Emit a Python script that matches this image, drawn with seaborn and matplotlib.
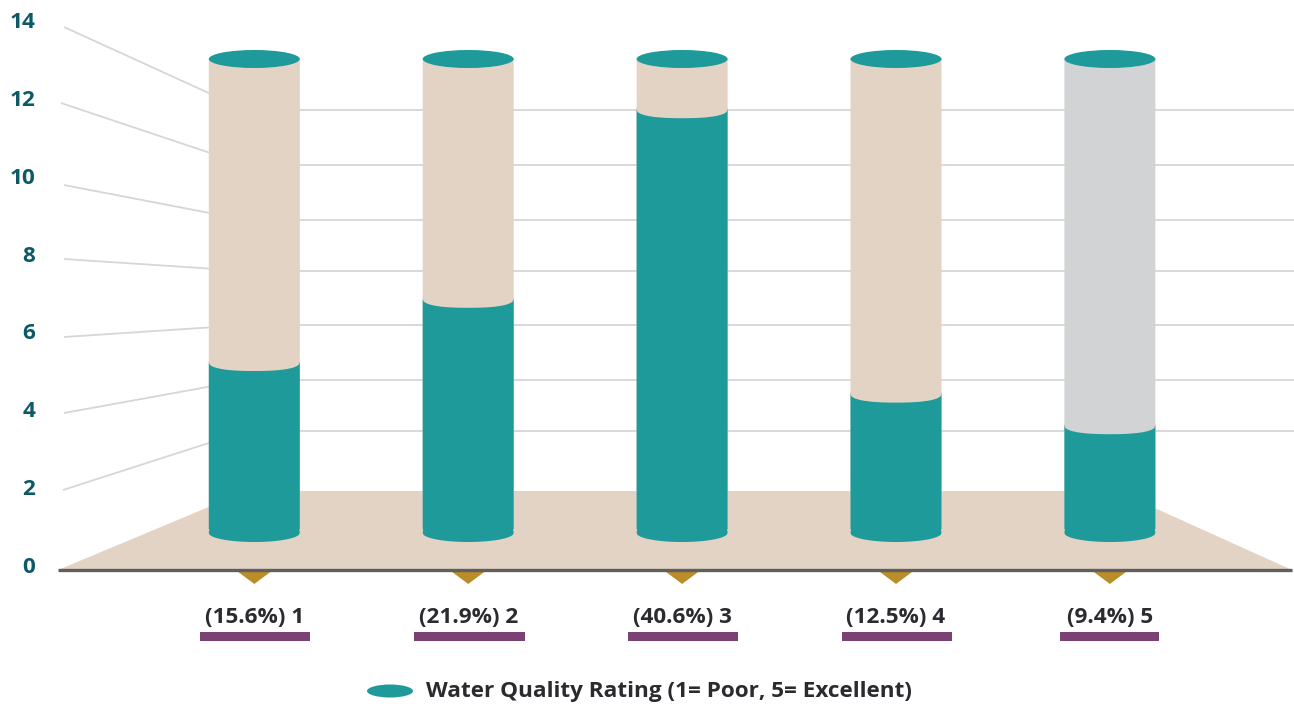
import numpy as np
import pandas as pd
import matplotlib
matplotlib.use("Agg")
import matplotlib.pyplot as plt
from matplotlib.patches import Ellipse, Polygon, Rectangle
import seaborn as sns

# Survey responses per rating
ratings = ["1", "2", "3", "4", "5"]
counts = [5, 7, 13, 4, 3]
shares = ["15.6", "21.9", "40.6", "12.5", "9.4"]
y_ticks = [0, 2, 4, 6, 8, 10, 12, 14]
legend_label = "Water Quality Rating (1= Poor, 5= Excellent)"

TEAL = "#1E9A9A"
BEIGE = "#E2D3C4"
GREY = "#D1D3D4"
GOLD = "#BB8D28"
PURPLE = "#7C4174"
TICK_COLOR = "#0B5A66"
TEXT_COLOR = "#2B2A2E"
GRID_COLOR = "#D6D6D6"
AXIS_COLOR = "#5F5F5F"
track_colors = [BEIGE, BEIGE, BEIGE, BEIGE, GREY]
FONT = "Open Sans"
LABEL_SIZE = 16.2

W, H = 1294, 704
BASE_PX = 570                # floor front edge
ZERO_PX = 529                # pixel row of value 0 on the cylinder scale
UNIT_PX = 31.6               # pixels per unit on the cylinder scale
FIRST_PX, STEP_PX = 254.3, 213.9
BAR_PX = 91
TOP_PX = 59

sns.set_theme(style="white")
plt.rcParams["font.family"] = [FONT, "DejaVu Sans"]
plt.rcParams["font.weight"] = "bold"

fig = plt.figure(figsize=(W / 100, H / 100), dpi=100)
fig.patch.set_facecolor("white")

# Scene layer in pixel coordinates: floor, walls, baseline, decorations
scene = fig.add_axes([0, 0, 1, 1], zorder=1)
scene.set_xlim(0, W)
scene.set_ylim(H, 0)
scene.axis("off")

scene.add_patch(Polygon([(58, BASE_PX), (247, 491), (1117, 491), (1292, BASE_PX)],
                        closed=True, fc=BEIGE, ec="none"))

wall_left = [(64, 27), (61, 103), (64, 185), (64, 259), (64, 337), (64, 413), (63, 490)]
wall_back = [110, 165, 220, 271, 325, 380, 431]
for (x0, y0), yb in zip(wall_left, wall_back):
    scene.plot([x0, 246, W], [y0, yb, yb], color=GRID_COLOR, lw=1.3,
               solid_joinstyle="miter", solid_capstyle="butt")

scene.plot([58, 1292], [BASE_PX, BASE_PX], color=AXIS_COLOR, lw=2.4, solid_capstyle="butt")

for i in range(len(ratings)):
    cx = FIRST_PX + STEP_PX * i
    scene.add_patch(Polygon([(cx - 16, 572), (cx + 16, 572), (cx, 584)],
                            closed=True, fc=GOLD, ec="none"))

underline_spans = [(200, 310), (414, 525), (628, 738), (842, 952), (1060, 1159)]
for x0, x1 in underline_spans:
    scene.add_patch(Rectangle((x0, 632), x1 - x0, 9, fc=PURPLE, ec="none"))

scene.add_patch(Ellipse((390, 691), 46, 13, fc=TEAL, ec="none"))
scene.text(426, 691, legend_label, color=TEXT_COLOR, fontsize=LABEL_SIZE,
           fontweight="bold", va="center", ha="left")

# Value axis labels on the left wall
tick_ax = fig.add_axes([0, 0, 1, 1], zorder=2)
tick_ax.patch.set_alpha(0)
tick_ax.set_ylim((565 - H) / 38.93, 565 / 38.93)
tick_ax.set_xticks([])
tick_ax.set_yticks(y_ticks)
tick_ax.tick_params(axis="y", length=0, pad=-25.5, labelsize=LABEL_SIZE, labelcolor=TICK_COLOR)
for spine in tick_ax.spines.values():
    spine.set_visible(False)

# Cylinders
ax = fig.add_axes([0, 1 - BASE_PX / H, 1, BASE_PX / H], zorder=3)
ax.patch.set_alpha(0)

track_top = (ZERO_PX - TOP_PX) / UNIT_PX
rim = 9 / UNIT_PX
df = pd.DataFrame({"rating": ratings, "count": counts,
                   "track": [track_top] * len(ratings),
                   "fill": [c + rim for c in counts]})

sns.barplot(data=df, x="rating", y="track", hue="rating", palette=track_colors,
            width=BAR_PX / STEP_PX, saturation=1, legend=False, linewidth=0, ax=ax)
sns.barplot(data=df, x="rating", y="fill", color=TEAL,
            width=BAR_PX / STEP_PX, saturation=1, linewidth=0, ax=ax)
for bar in ax.patches:
    bar.set_snap(False)

half = BAR_PX / STEP_PX / 2
u = np.linspace(-1, 1, 121)
sag = 1 - (1 - np.abs(u) ** 2.4) ** (1 / 2.4)
foot_sag = 1 - np.sqrt(1 - u ** 2)
overlap = 1.5 / UNIT_PX
inset = 0.7 / STEP_PX

for i, (count, shade) in enumerate(zip(counts, track_colors)):
    # rounded front edge of the filled part, reaching past the top of the fill
    curve = np.column_stack([i + u * half, count + rim * sag])
    curve = np.vstack([[i - half, count + rim + overlap], curve,
                       [i + half, count + rim + overlap]])
    ax.add_patch(Polygon(curve, closed=True, fc=shade, ec="none", zorder=4))
    # rounded foot of the cylinder
    foot_edge = -4 / UNIT_PX
    foot = np.column_stack([i + u * half, foot_edge - (9 / UNIT_PX) * (1 - foot_sag)])
    foot = np.vstack([[i - half + inset, overlap], foot, [i + half - inset, overlap]])
    ax.add_patch(Polygon(foot, closed=True, fc=TEAL, ec="none", zorder=4))
    # cap
    ax.add_patch(Ellipse((i, track_top), 2 * half, 18 / UNIT_PX, fc=TEAL, ec="none", zorder=5))

ax.set_xlim(-FIRST_PX / STEP_PX, (W - FIRST_PX) / STEP_PX)
ax.set_ylim((ZERO_PX - BASE_PX) / UNIT_PX, ZERO_PX / UNIT_PX)
ax.set_xlabel("")
ax.set_ylabel("")
ax.set_yticks([])
ax.set_xticks(range(len(ratings)))
ax.set_xticklabels([f"({s}%) {r}" for s, r in zip(shares, ratings)])
ax.tick_params(axis="x", length=0, pad=26.5, labelsize=LABEL_SIZE, labelcolor=TEXT_COLOR)
for spine in ax.spines.values():
    spine.set_visible(False)

fig.savefig("out.png", dpi=100, facecolor="white")
